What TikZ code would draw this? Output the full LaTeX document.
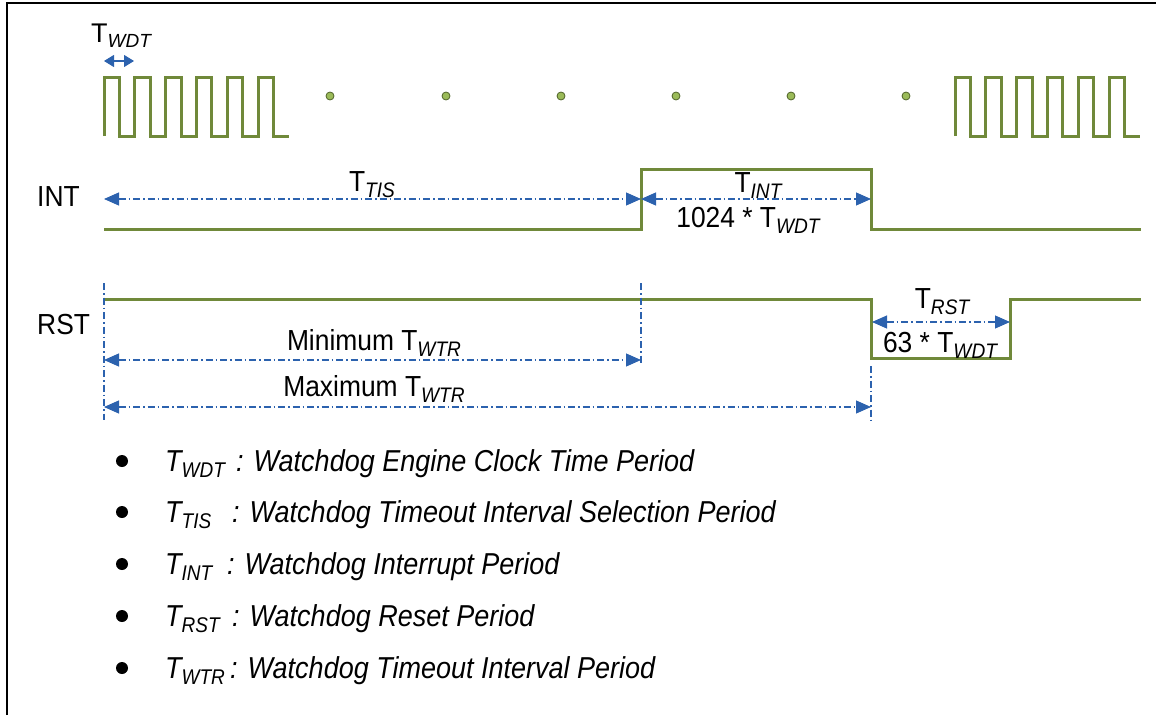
\documentclass[tikz,border=0pt]{standalone}
\usepackage{fontspec}
\setmainfont{Liberation Sans}
\usetikzlibrary{arrows.meta}
\definecolor{sig}{HTML}{70893A}
\definecolor{dimc}{HTML}{2C62AE}
\definecolor{dotfill}{HTML}{9BBB59}
\definecolor{dotedge}{HTML}{4F6228}
\newcommand\tsb[1]{T\raisebox{-0.22em}{\fontsize{21}{21}\selectfont\itshape #1}}
\newcommand\itsb[1]{\textit{T\raisebox{-0.22em}{\fontsize{19}{19}\selectfont #1}}}
\newcommand\cnd[1]{\scalebox{0.91}[1]{#1}}
\begin{document}
\begin{tikzpicture}[x=1pt,y=-1pt,
  signal/.style={draw=sig, line width=3pt, line join=miter},
  tipA/.tip={Triangle[length=15pt,width=13pt]},
  dimline/.style={draw=dimc, line width=1.1pt, dash pattern=on 7pt off 3pt on 1.5pt off 3pt, tipA-tipA},
  guide/.style={draw=dimc, line width=1.1pt, dash pattern=on 7pt off 3pt on 1.5pt off 3pt},
  lbl/.style={font=\fontsize{29}{33}\selectfont, inner sep=0pt},
  leg/.style={font=\fontsize{27}{31}\selectfont\itshape, inner sep=0pt, anchor=base west},
  bullet/.style={circle, fill=black, inner sep=0pt, minimum size=12pt},
  gdot/.style={circle, fill=dotfill, draw=dotedge, line width=0.8pt, inner sep=0pt, minimum size=8pt}]
\useasboundingbox (0,0) rectangle (1156,715);
% frame
\draw[line width=2.2pt] (7,715) -- (7,3) -- (1156,3);

% clock
\draw[signal] (104,136) \foreach \i in {0,...,5}{ -- ({104+30.8*\i},77) -- ({119.4+30.8*\i},77) -- ({119.4+30.8*\i},136) -- ({134.8+30.8*\i},136)};
\draw[signal] (955,136) \foreach \i in {0,...,5}{ -- ({955+30.8*\i},77) -- ({970.4+30.8*\i},77) -- ({970.4+30.8*\i},136) -- ({985.8+30.8*\i},136)};
\foreach \x [count=\k] in {330,446,561,676,791,906}
  \node[gdot] (d\k) at (\x,96) {};

% T_WDT marker
\node[lbl, font=\fontsize{27}{31}\selectfont, anchor=base west] (twdt) at (91,42) {T\raisebox{-0.22em}{\fontsize{19}{19}\selectfont\itshape WDT}};
\coordinate (w0) at (104,61);
\coordinate (w1) at (134,61);
\draw[draw=dimc, line width=1.1pt, {Triangle[length=10pt,width=12pt]}-{Triangle[length=10pt,width=12pt]}] (w0) -- (w1);

% INT
\node[lbl, anchor=west] (intl) at (37,197) {\cnd{INT}};
\draw[signal] (104,229) -- (641,229) -- (641,169) -- (871,169) -- (871,229) -- (1141,229);
\coordinate (a0) at (104,199);
\coordinate (a1) at (641,199);
\coordinate (a2) at (871,199);
\draw[dimline] (a0) -- (a1);
\draw[dimline] (a1) -- (a2);
\node[lbl, anchor=base] (ttis) at (372,191) {\cnd{\tsb{TIS}}};
\node[lbl, anchor=base] (tint) at (758,192) {\cnd{\tsb{INT}}};
\node[lbl, anchor=base] (n1024) at (748,227) {\cnd{1024 * \tsb{WDT}}};

% RST
\node[lbl, anchor=west] (rstl) at (37,325) {\cnd{RST}};
\draw[signal] (104,299) -- (871,299) -- (871,358) -- (1010,358) -- (1010,299) -- (1141,299);
\coordinate (r0) at (872,322);
\coordinate (r1) at (1010,322);
\draw[dimline] (r0) -- (r1);
\node[lbl, anchor=base] (trst) at (942,308) {\cnd{\tsb{RST}}};
\node[lbl, anchor=base] (n63) at (940,352) {\cnd{63 * \tsb{WDT}}};

% guides
\coordinate (g0a) at (104,283);
\coordinate (g0b) at (104,420);
\coordinate (g1a) at (641,283);
\coordinate (g1b) at (641,365);
\coordinate (g2a) at (871,366);
\coordinate (g2b) at (871,420);
\draw[guide] (g0a) -- (g0b);
\draw[guide] (g1a) -- (g1b);
\draw[guide] (g2a) -- (g2b);
\coordinate (m0) at (104,360);
\coordinate (m1) at (641,360);
\coordinate (x0) at (104,407);
\coordinate (x1) at (871,407);
\draw[dimline] (m0) -- (m1);
\draw[dimline] (x0) -- (x1);
\node[lbl, anchor=base] (minl) at (374,350) {\cnd{Minimum \tsb{WTR}}};
\node[lbl, anchor=base] (maxl) at (374,396) {\cnd{Maximum \tsb{WTR}}};

% legend
\foreach \y/\s/\cx/\txt [count=\k] in {
  471/WDT/236/Watchdog Engine Clock Time Period,
  522/TIS/232/Watchdog Timeout Interval Selection Period,
  574/INT/227/Watchdog Interrupt Period,
  626/RST/232/Watchdog Reset Period,
  678/WTR/230/Watchdog Timeout Interval Period}{
  \node[bullet] (b\k) at (122,\y-10) {};
  \node[leg] (s\k) at (165,\y) {\scalebox{1}[1.12]{\itsb{\s}}};
  \node[leg] (t\k) at (\cx,\y) {\scalebox{1}[1.12]{: \txt}};
}
\end{tikzpicture}
\end{document}
